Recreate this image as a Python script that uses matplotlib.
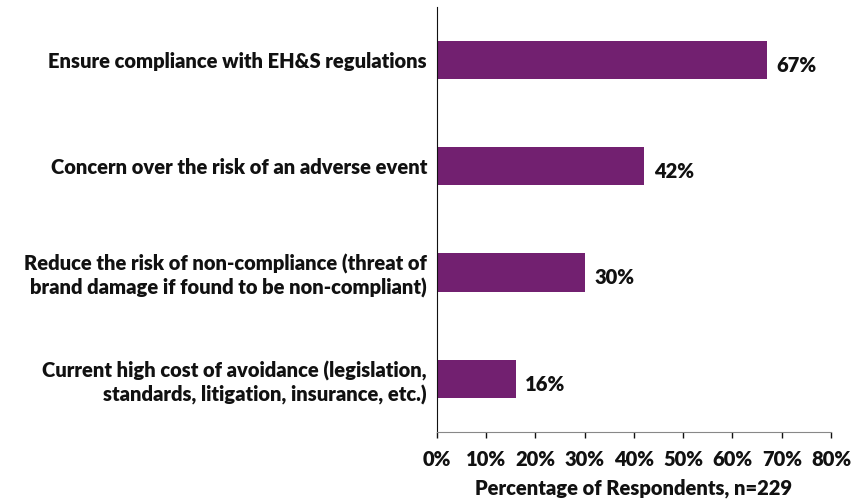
import matplotlib.pyplot as plt
from matplotlib.ticker import FuncFormatter

# --- data ---
categories = [
    "Ensure compliance with EH&S regulations",
    "Concern over the risk of an adverse event",
    "Reduce the risk of non-compliance (threat of\nbrand damage if found to be non-compliant)",
    "Current high cost of avoidance (legislation,\nstandards, litigation, insurance, etc.)",
]
values = [67, 42, 30, 16]
x_ticks = [0, 10, 20, 30, 40, 50, 60, 70, 80]

bar_color = "#722070"
text_color = "#111111"
fs = 14.5
plt.rcParams["font.family"] = ["Lato", "DejaVu Sans"]
plt.rcParams["font.weight"] = "bold"

fig = plt.figure(figsize=(8.63, 5.01), dpi=100)
ax = fig.add_axes([0.506, 0.138, 0.457, 0.848])

y_pos = list(range(len(categories)))
ax.barh(y_pos, values, height=0.36, color=bar_color)
ax.set_ylim(len(categories) - 0.5, -0.5)
ax.set_xlim(0, 80)

for y, v in zip(y_pos, values):
    ax.text(v + 2.0, y + 0.05, f"{v}%", va="center", ha="left",
            fontsize=fs, fontweight="heavy", color=text_color)

ax.set_yticks(y_pos)
ax.set_yticklabels(categories, fontsize=fs, fontweight="heavy", color=text_color,
                   ha="right", linespacing=1.25)
ax.tick_params(axis="y", length=0, pad=7)

ax.set_xticks(x_ticks)
ax.xaxis.set_major_formatter(FuncFormatter(lambda x, _: f"{x:.0f}%"))
ax.tick_params(axis="x", direction="out", length=4, width=1, labelsize=fs,
               pad=9, colors=text_color)
for lbl in ax.get_xticklabels():
    lbl.set_fontweight("heavy")

ax.set_xlabel("Percentage of Respondents, n=229", fontsize=fs,
              fontweight="heavy", color=text_color, labelpad=7)

ax.spines["top"].set_visible(False)
ax.spines["right"].set_visible(False)
ax.spines["left"].set_color(text_color)
ax.spines["bottom"].set_color("#888888")

fig.savefig("out.png", dpi=100)
